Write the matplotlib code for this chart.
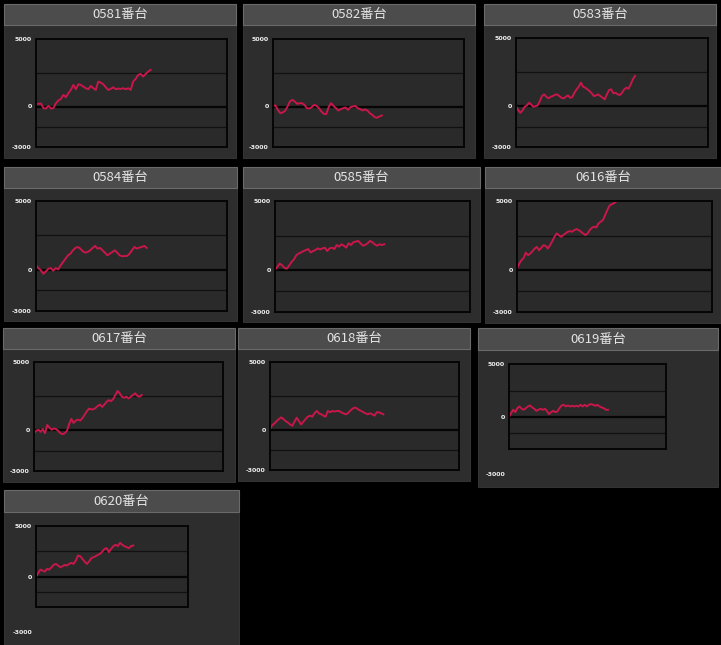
import numpy as np
import matplotlib.pyplot as plt
from matplotlib.patches import Rectangle

plt.rcParams['font.family'] = ['Noto Sans CJK JP', 'DejaVu Sans']

# machine numbers (panel titles)
titles = ["0581番台", "0582番台", "0583番台", "0584番台", "0585番台",
          "0616番台", "0617番台", "0618番台", "0619番台", "0620番台"]

# cumulative balance per machine
s0581 = [172, 197, 221, -123, -148, 49, -148, -123, 246, 443, 566, 861, 689, 984,
         1230, 1599, 1279, 1648, 1599, 1476, 1353, 1279, 1525, 1353, 1230, 1845, 1771,
         1648, 1427, 1230, 1304, 1427, 1279, 1328, 1304, 1353, 1279, 1353, 1230, 1845,
         2042, 2337, 2411, 2214, 2411, 2583, 2706]
s0582 = [49, 74, -246, -492, -443, -320, 0, 369, 492, 369, 197, 246, 246, 123, -123,
         -148, -49, 123, 49, -123, -369, -541, -566, -49, 246, 49, -123, -295, -197,
         -123, -74, -246, -49, 0, 49, -123, -197, -295, -221, -295, -492, -615, -787,
         -836, -738, -664]
s0583 = [0, -295, -492, -320, -49, 49, 246, 123, -49, 0, 49, 369, 738, 861, 689, 566,
         689, 738, 836, 861, 738, 615, 566, 689, 787, 615, 664, 984, 1230, 1427, 1722,
         1427, 1353, 1230, 1107, 935, 738, 787, 861, 738, 615, 492, 861, 1181, 1230,
         935, 984, 861, 812, 984, 1230, 1353, 1279, 1599, 1968, 2214]
s0584 = [317, 122, -49, -293, -122, 73, 122, -73, 122, 24, 317, 561, 805, 1049, 1171,
         1415, 1586, 1659, 1537, 1342, 1244, 1293, 1415, 1586, 1732, 1537, 1586, 1415,
         1244, 1049, 1171, 1293, 1415, 1244, 1049, 976, 1000, 1000, 1171, 1415, 1659,
         1537, 1610, 1659, 1732, 1586]
s0585 = [49, 244, 488, 366, 171, 122, 366, 610, 805, 1098, 1220, 1293, 1391, 1464,
         1537, 1293, 1391, 1464, 1586, 1513, 1586, 1635, 1391, 1586, 1635, 1537, 1830,
         1708, 1879, 1781, 1635, 1952, 1830, 2025, 2074, 2123, 1952, 1781, 1830, 1952,
         2123, 2025, 1879, 1781, 1879, 1830, 1879]
s0616 = [121, 484, 726, 895, 1283, 1089, 1210, 1379, 1573, 1694, 1452, 1621, 1815,
         1766, 1573, 1815, 2105, 2420, 2662, 2541, 2420, 2541, 2662, 2783, 2831, 2783,
         2904, 2977, 2904, 2783, 2662, 2541, 2662, 2904, 3073, 3146, 3097, 3388, 3509,
         3630, 3993, 4356, 4670, 4767, 4840, 4961, 5100]
s0617 = [-225, -50, 25, -125, 75, -225, 375, 200, 25, 125, 75, -50, -225, -300, -225,
         -50, 450, 825, 525, 700, 775, 700, 875, 1125, 1375, 1575, 1525, 1525, 1625,
         1775, 1875, 1700, 1875, 2075, 2200, 2125, 2275, 2575, 2875, 2700, 2450, 2375,
         2450, 2325, 2450, 2575, 2700, 2525, 2450, 2575]
s0618 = [25, 325, 450, 625, 775, 900, 775, 625, 525, 375, 275, 575, 875, 625, 375, 575,
         775, 950, 1025, 950, 1200, 1375, 1200, 1125, 1025, 950, 1375, 1275, 1375, 1325,
         1375, 1375, 1275, 1200, 1125, 1200, 1375, 1525, 1625, 1575, 1450, 1375, 1275,
         1200, 1125, 1200, 1125, 1025, 1275, 1275, 1200, 1125]
s0619 = [0, 377, 691, 471, 848, 1005, 785, 691, 848, 1005, 1099, 911, 785, 597, 691,
         785, 691, 785, 597, 283, 471, 597, 471, 534, 848, 1099, 1162, 1005, 1099, 1005,
         1068, 1005, 1068, 1005, 1162, 1005, 1162, 1005, 1162, 1225, 1162, 1068, 1162,
         1005, 911, 848, 691, 691]
s0620 = [0, 364, 695, 596, 497, 762, 695, 927, 1159, 1258, 1092, 927, 1026, 1159, 1092,
         1258, 1357, 1258, 1589, 2085, 2019, 1754, 1490, 1258, 1490, 1820, 1920, 2019,
         2151, 2251, 2482, 2747, 2813, 2416, 2747, 3012, 3144, 3012, 3343, 3144, 3012,
         2913, 2813, 3012, 3078]
series = [s0581, s0582, s0583, s0584, s0585, s0616, s0617, s0618, s0619, s0620]

# how far across the plot each line has got (fraction of the x range)
progress = [0.60, 0.57, 0.62, 0.58, 0.56, 0.52, 0.57, 0.60, 0.63, 0.64]

ytick_vals = [5000, 0, -3000]
ytick_labels = ["5000", "0", "-3000"]
grid_vals = [2500, -1500]

# layout in pixels: panel x0,x1, title y0,y1, body bottom, plot x0,x1,y0,y1
layout = [
    (4, 236, 4, 25, 158, 36, 227, 39, 147),
    (243, 475, 4, 25, 158, 273, 464, 39, 147),
    (484, 716, 4, 25, 158, 516, 708, 38, 147),
    (4, 237, 167, 188, 321, 36, 227, 201, 311),
    (243, 480, 167, 188, 322, 275, 470, 201, 312),
    (485, 721, 167, 188, 323, 517, 712, 201, 312),
    (3, 235, 328, 349, 482, 34, 223, 362, 471),
    (238, 470, 328, 349, 481, 270, 459, 362, 470),
    (478, 718, 328, 350, 487, 509, 666, 364, 449),
    (4, 239, 490, 512, 645, 36, 188, 526, 607),
]
# panels whose -3000 label sits below the plot (pixel y)
loose_label = {8: 475, 9: 633}

W, H = 721, 645
fig = plt.figure(figsize=(W / 100, H / 100), dpi=100, facecolor="black")


def fx(x):
    return x / W


def fy(y):
    return 1 - y / H


for i, (title, vals) in enumerate(zip(titles, series)):
    x0, x1, ty0, ty1, by1, px0, px1, py0, py1 = layout[i]
    # body
    fig.add_artist(Rectangle((fx(x0), fy(by1)), fx(x1) - fx(x0), fy(ty1) - fy(by1),
                             transform=fig.transFigure, facecolor="#2d2d2d",
                             edgecolor="#3a3a3a", lw=0.6, zorder=0))
    # title bar
    fig.add_artist(Rectangle((fx(x0), fy(ty1)), fx(x1) - fx(x0), fy(ty0) - fy(ty1),
                             transform=fig.transFigure, facecolor="#4c4c4c",
                             edgecolor="#6a6a6a", lw=0.8, zorder=0))
    fig.text((fx(x0) + fx(x1)) / 2, (fy(ty0) + fy(ty1)) / 2, title, color="#e4e4e4",
             fontsize=9.5, ha="center", va="center")

    ax = fig.add_axes([fx(px0), fy(py1), fx(px1) - fx(px0), fy(py0) - fy(py1)])
    ax.set_facecolor("#2a2a2a")
    x = np.arange(len(vals))
    ax.set_xlim(0, (len(vals) - 1) / progress[i])
    ax.set_ylim(-3000, 5000)
    for g in grid_vals:
        ax.axhline(g, color="#111111", lw=0.9, zorder=1)
    ax.axhline(0, color="#050505", lw=1.6, zorder=1)
    ax.plot(x, vals, color="#c8174a", lw=1.4, zorder=2)
    for sp in ax.spines.values():
        sp.set_color("#050505")
        sp.set_linewidth(1.4)
    ax.set_xticks([])
    if i in loose_label:
        ax.set_yticks(ytick_vals[:2], ytick_labels[:2])
        fig.text(fx(px0 - 4), fy(loose_label[i]), ytick_labels[2], color="#f0f0f0",
                 fontsize=4.5, fontweight="bold", ha="right", va="center",
                 family="DejaVu Sans")
    else:
        ax.set_yticks(ytick_vals, ytick_labels)
    ax.tick_params(axis="y", length=0, pad=3, labelsize=4.5, labelcolor="#f0f0f0")
    for lab in ax.get_yticklabels():
        lab.set_fontweight("bold")
        lab.set_family("DejaVu Sans")

fig.savefig("out.png", dpi=100, facecolor="black")
